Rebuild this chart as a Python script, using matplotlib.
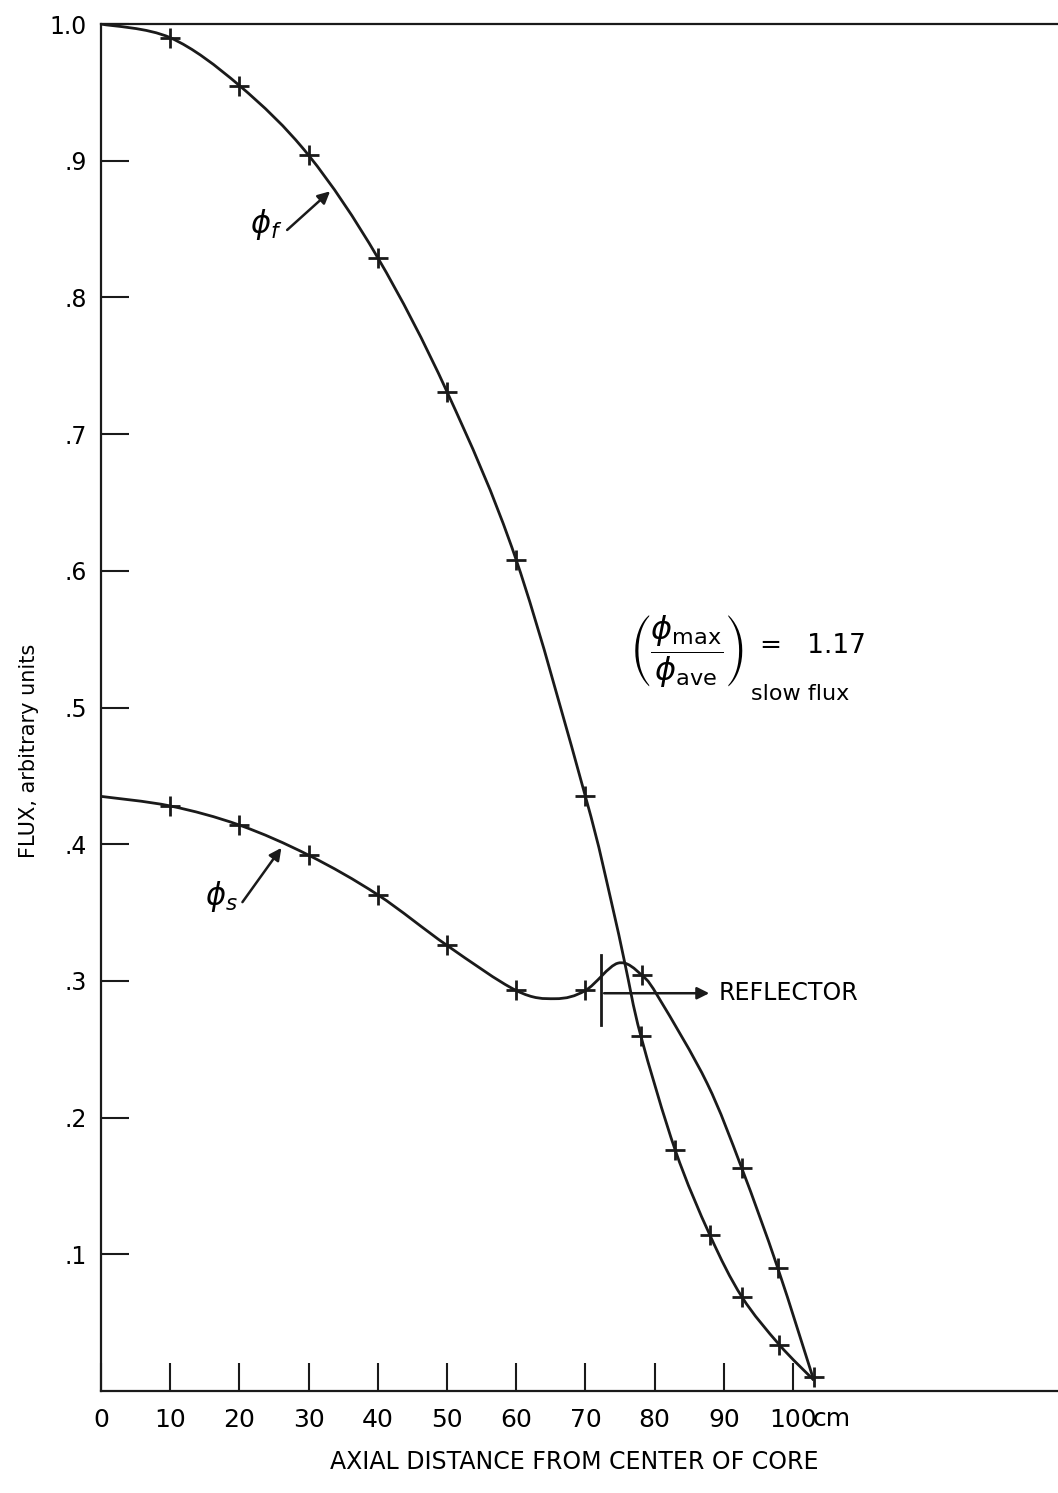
import numpy as np
import matplotlib
matplotlib.use("Agg")
import matplotlib.pyplot as plt
from matplotlib.path import Path
from matplotlib.patches import PathPatch

plt.rcParams['font.family'] = ['DejaVu Sans']
plt.rcParams['mathtext.fontset'] = 'dejavusans'

# traced curve of fast flux (cm, arbitrary units)
fast_x = [0, 10, 20, 30, 40, 50, 60, 70, 73.7, 75.7, 78, 83, 88, 92.6, 98, 103]
fast_y = [1.0, 0.990, 0.955, 0.904, 0.829, 0.731, 0.608, 0.435, 0.359, 0.313,
          0.260, 0.176, 0.114, 0.069, 0.034, 0.008]
# plotted points on fast flux
fast_pts_x = [10, 20, 30, 40, 50, 60, 70, 78, 83, 88, 92.6, 98, 103]
fast_pts_y = [0.990, 0.955, 0.904, 0.829, 0.731, 0.608, 0.435, 0.260, 0.176,
              0.114, 0.069, 0.034, 0.010]

# traced curve of slow flux
slow_x = [0, 10, 20, 30, 40, 50, 60, 65.6, 70, 74.7, 78.2, 80.8, 87.6, 92.6, 97.8, 103]
slow_y = [0.435, 0.428, 0.414, 0.392, 0.363, 0.326, 0.293, 0.287, 0.293, 0.313,
          0.304, 0.286, 0.225, 0.163, 0.090, 0.008]
slow_pts_x = [10, 20, 30, 40, 50, 60, 70, 78.2, 92.6, 97.8]
slow_pts_y = [0.428, 0.414, 0.392, 0.363, 0.326, 0.293, 0.293, 0.304, 0.163, 0.090]

x_ticks = [0, 10, 20, 30, 40, 50, 60, 70, 80, 90, 100]
x_labels = ['0', '10', '20', '30', '40', '50', '60', '70', '80', '90', '100']
y_ticks = [0.1, 0.2, 0.3, 0.4, 0.5, 0.6, 0.7, 0.8, 0.9, 1.0]
y_labels = ['.1', '.2', '.3', '.4', '.5', '.6', '.7', '.8', '.9', '1.0']

reflector_x = 72.3


def smooth_path(xs, ys):
    # cubic bezier through the traced points (catmull-rom style handles)
    p = np.column_stack([xs, ys]).astype(float)
    p = np.vstack([p[0], p, p[-1]])
    verts = [p[1]]
    codes = [Path.MOVETO]
    for i in range(1, len(p) - 2):
        c1 = p[i] + (p[i + 1] - p[i - 1]) / 6
        c2 = p[i + 1] - (p[i + 2] - p[i]) / 6
        verts += [c1, c2, p[i + 1]]
        codes += [Path.CURVE4] * 3
    return Path(verts, codes)


fig = plt.figure(figsize=(10.58, 14.93), dpi=100)
ax = fig.add_axes([0.0955, 0.0683, 0.9045, 0.9156])
ax.set_xlim(0, 138.3)
ax.set_ylim(0, 1.0)

for xs, ys in [(fast_x, fast_y), (slow_x, slow_y)]:
    ax.add_patch(PathPatch(smooth_path(xs, ys), fill=False, lw=2.0, color='#1a1a1a'))

ax.plot(fast_pts_x, fast_pts_y, ls='none', marker='+', ms=15, mew=2, color='#1a1a1a')
ax.plot(slow_pts_x, slow_pts_y, ls='none', marker='+', ms=15, mew=2, color='#1a1a1a')

ax.spines['right'].set_visible(False)
for s in ['left', 'top', 'bottom']:
    ax.spines[s].set_linewidth(1.6)
    ax.spines[s].set_color('#1a1a1a')

ax.set_xticks(x_ticks)
ax.set_xticklabels(x_labels)
ax.set_yticks(y_ticks)
ax.set_yticklabels(y_labels)
ax.tick_params(axis='both', direction='in', length=20, width=1.5, color='#1a1a1a')
ax.tick_params(axis='x', labelsize=18, pad=12)
ax.tick_params(axis='y', labelsize=17, pad=10)
# unit sits right after the "100" tick label
ax.text(102.9, -0.0205, 'cm', fontsize=18, ha='left', va='center')

fig.text(0.5425, 0.0208, 'AXIAL DISTANCE FROM CENTER OF CORE', fontsize=17,
         ha='center', va='center')
fig.text(0.027, 0.497, 'FLUX, arbitrary units', fontsize=15, rotation=90,
         ha='center', va='center')

# curve labels
ax.annotate('', xy=(33.4, 0.879), xytext=(26.6, 0.848),
            arrowprops=dict(arrowstyle='-|>', lw=1.8, color='#1a1a1a', mutation_scale=18))
ax.text(26.2, 0.853, r'$\phi_f$', fontsize=22, ha='right', va='center')
ax.annotate('', xy=(26.3, 0.399), xytext=(20.2, 0.356),
            arrowprops=dict(arrowstyle='-|>', lw=1.8, color='#1a1a1a', mutation_scale=18))
ax.text(19.8, 0.362, r'$\phi_s$', fontsize=22, ha='right', va='center')

# reflector marker
ax.plot([reflector_x, reflector_x], [0.268, 0.319], color='#1a1a1a', lw=2)
ax.annotate('', xy=(88.3, 0.291), xytext=(reflector_x, 0.291),
            arrowprops=dict(arrowstyle='-|>', lw=1.8, color='#1a1a1a', mutation_scale=18))
ax.text(89.2, 0.291, 'REFLECTOR', fontsize=17, ha='left', va='center')

# peak-to-average ratio
ax.text(84.6, 0.541, r'$\left(\dfrac{\phi_{\mathrm{max}}}{\phi_{\mathrm{ave}}}\right)$',
        fontsize=23, ha='center', va='center')
ax.text(95.3, 0.545, '=   1.17', fontsize=19, ha='left', va='center')
ax.text(94.0, 0.510, 'slow flux', fontsize=16, ha='left', va='center')

fig.savefig('out.png', dpi=100)
